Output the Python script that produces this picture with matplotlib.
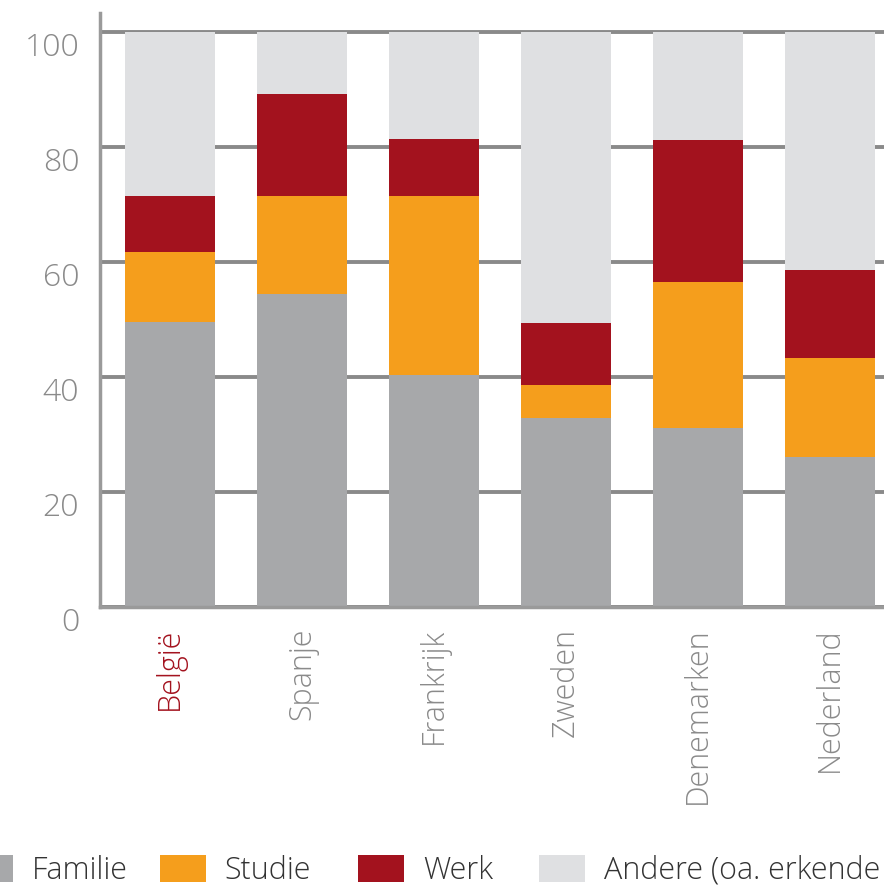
import numpy as np
import matplotlib.pyplot as plt
from matplotlib.patches import Patch

# -------- data (percentages) --------
landen = ["België", "Spanje", "Frankrijk", "Zweden", "Denemarken", "Nederland"]
familie = [49.5, 54.4, 40.3, 32.9, 31.1, 26.1]
studie = [12.2, 17.1, 31.2, 5.7, 25.4, 17.2]
werk = [9.8, 17.7, 9.9, 10.8, 24.7, 15.3]
reeksen = ["Familie", "Studie", "Werk", "Andere (oa. erkende vluchtelingen)"]

kleuren = ["#a7a8aa", "#f59e1c", "#a3121e", "#dfe0e2"]
grijs = "#8a8a8a"

plt.rcParams['font.family'] = ['Open Sans', 'DejaVu Sans']
plt.rcParams['font.weight'] = 'light'

fig = plt.figure(figsize=(8.84, 8.90), dpi=100)
ax = fig.add_axes([100 / 884, 1 - 607 / 890, 1 - 100 / 884, 594 / 890])

x = np.arange(len(landen))
andere = [100 - f - s - w for f, s, w in zip(familie, studie, werk)]
bottom = np.zeros(len(landen))
for waarden, kleur in zip([familie, studie, werk, andere], kleuren):
    ax.bar(x, waarden, 0.68, bottom=bottom, color=kleur, zorder=2)
    bottom += np.array(waarden)

ax.set_xlim(-0.53, 5.41)
ax.set_ylim(0, 103.3)
ax.set_yticks([0, 20, 40, 60, 80, 100])
ax.set_axisbelow(True)
ax.grid(axis='y', color="#8a8a8a", linewidth=2.8)
for kant in ["top", "right"]:
    ax.spines[kant].set_visible(False)
for kant in ["left", "bottom"]:
    ax.spines[kant].set_color("#9a9a9a")
    ax.spines[kant].set_linewidth(2.5)

ax.tick_params(axis='y', length=0, pad=15, labelsize=23, labelcolor=grijs)
for lbl in ax.get_yticklabels():
    lbl.set_verticalalignment('top')

ax.set_xticks(x)
ax.set_xticklabels(landen, rotation=90, fontsize=22, color=grijs)
ax.tick_params(axis='x', length=0, pad=15)
ax.get_xticklabels()[0].set_color("#a3121e")

# legend: one entry per column, placed at the reference positions
starts = [-33, 160, 358, 539]
for x0, kleur, naam in zip(starts, kleuren, reeksen):
    fig.legend([Patch(facecolor=kleur, edgecolor='none')], [naam], loc='center left',
               bbox_to_anchor=(x0 / 884, 1 - 871 / 890), frameon=False, fontsize=22,
               handlelength=1.5, handleheight=1.0, handletextpad=0.62,
               labelcolor="#333333", borderpad=0, borderaxespad=0)

fig.savefig("out.png", dpi=100)
